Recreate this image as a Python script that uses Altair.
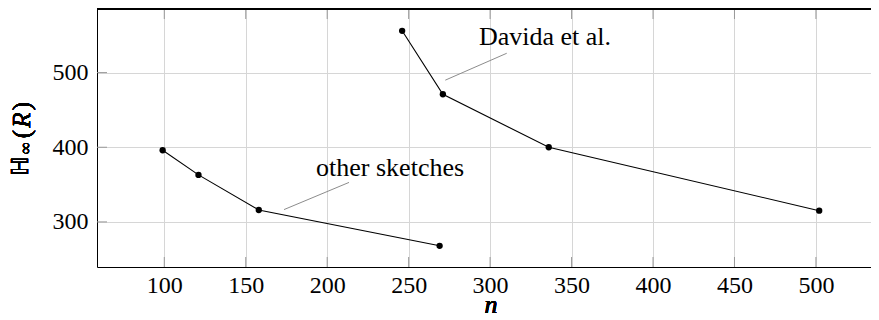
import altair as alt
import pandas as pd

# ---- data ----
other_n = [99, 121, 158, 269]
other_h = [396, 363, 316, 268]
davida_n = [246, 271, 336, 502]
davida_h = [556, 471, 400, 315]

x_ticks = [100, 150, 200, 250, 300, 350, 400, 450, 500]
y_ticks = [300, 400, 500]

ann_text = ["other sketches", "Davida et al."]
ann_tx = [238.6, 333.7]
ann_ty = [372.3, 548.3]
pin_x1 = [173.5, 272.5]
pin_y1 = [316.5, 489.9]
pin_x2 = [213.4, 310.2]
pin_y2 = [352.9, 525.9]

X_DOMAIN = [58.7, 533.8]
Y_DOMAIN = [239.6, 585.2]
W, H = 774, 258
FONT = "Liberation Serif"

series = pd.DataFrame({
    "n": other_n + davida_n,
    "h": other_h + davida_h,
    "s": ["other"] * len(other_n) + ["davida"] * len(davida_n),
})
ann = pd.DataFrame({"t": ann_text, "x": ann_tx, "y": ann_ty})
pins = pd.DataFrame({"x1": pin_x1, "y1": pin_y1, "x2": pin_x2, "y2": pin_y2})
xt = pd.DataFrame({"v": x_ticks})
yt = pd.DataFrame({"v": y_ticks})

xs = alt.Scale(domain=X_DOMAIN, nice=False, zero=False)
ys = alt.Scale(domain=Y_DOMAIN, nice=False, zero=False)

xax = alt.Axis(values=x_ticks, grid=True, gridColor="#d6d6d6", gridWidth=1,
               ticks=False, domain=True, domainColor="#000000", domainWidth=1,
               labelFont=FONT, labelFontSize=24, labelColor="#000000",
               labelPadding=6, title=None)
yax = alt.Axis(values=y_ticks, grid=True, gridColor="#d6d6d6", gridWidth=1,
               ticks=False, domain=True, domainColor="#000000", domainWidth=1,
               labelFont=FONT, labelFontSize=24, labelColor="#000000",
               labelPadding=9, title=None)

base = alt.Chart(series)

lines = base.mark_line(color="#000000", strokeWidth=1.1).encode(
    x=alt.X("n:Q", scale=xs, axis=xax),
    y=alt.Y("h:Q", scale=ys, axis=yax),
    detail="s:N",
)
points = base.mark_circle(color="#000000", opacity=1, size=40).encode(
    x=alt.X("n:Q", scale=xs),
    y=alt.Y("h:Q", scale=ys),
)

tick_color = "#999999"
bottom_ticks = alt.Chart(xt).mark_rule(color=tick_color, strokeWidth=1).encode(
    x=alt.X("v:Q", scale=xs), y=alt.value(H), y2=alt.value(H - 10))
top_ticks = alt.Chart(xt).mark_rule(color=tick_color, strokeWidth=1).encode(
    x=alt.X("v:Q", scale=xs), y=alt.value(0), y2=alt.value(10))
left_ticks = alt.Chart(yt).mark_rule(color=tick_color, strokeWidth=1).encode(
    y=alt.Y("v:Q", scale=ys), x=alt.value(0), x2=alt.value(10))

top_border = alt.Chart(xt).mark_rule(color="#000000", strokeWidth=1).encode(
    x=alt.value(0), x2=alt.value(W), y=alt.value(0))

pin_lines = alt.Chart(pins).mark_rule(color="#8c8c8c", strokeWidth=1).encode(
    x=alt.X("x1:Q", scale=xs), y=alt.Y("y1:Q", scale=ys),
    x2="x2:Q", y2="y2:Q")

labels = alt.Chart(ann).mark_text(font=FONT, fontSize=26, color="#000000",
                                  align="center", baseline="middle").encode(
    x=alt.X("x:Q", scale=xs), y=alt.Y("y:Q", scale=ys), text="t:N")

# axis titles
x_title = alt.Chart(xt).mark_text(text="n", font=FONT, fontSize=26, fontStyle="italic",
                                  color="#000000", align="center",
                                  baseline="alphabetic").encode(
    x=alt.value(394), y=alt.value(H + 46))

def ytxt(txt, cx, cy, size, style="normal", font=FONT):
    return alt.Chart(xt).mark_text(text=txt, font=font, fontSize=size, fontStyle=style,
                                   angle=270, color="#000000", align="center",
                                   baseline="middle").encode(
        x=alt.value(cx), y=alt.value(cy))

y_title = (
    ytxt("ℍ", -76, 157, 23, font="DejaVu Sans")
    + ytxt("∞", -71, 139, 17)
    + ytxt("(", -75, 125, 25)
    + ytxt("R", -75, 111, 25, style="italic")
    + ytxt(")", -75, 97, 25)
)

chart = alt.layer(
    lines, bottom_ticks, top_ticks, left_ticks, top_border,
    pin_lines, points, labels, x_title, y_title,
).properties(
    width=W, height=H,
    background="white",
    autosize=alt.AutoSizeParams(type="none"),
    padding={"left": 89, "top": 1, "right": 0, "bottom": 53},
).configure(
    font=FONT,
    view=alt.ViewConfig(stroke=None),
)

chart.save("out.html", embed_options={"renderer": "svg", "actions": False})
